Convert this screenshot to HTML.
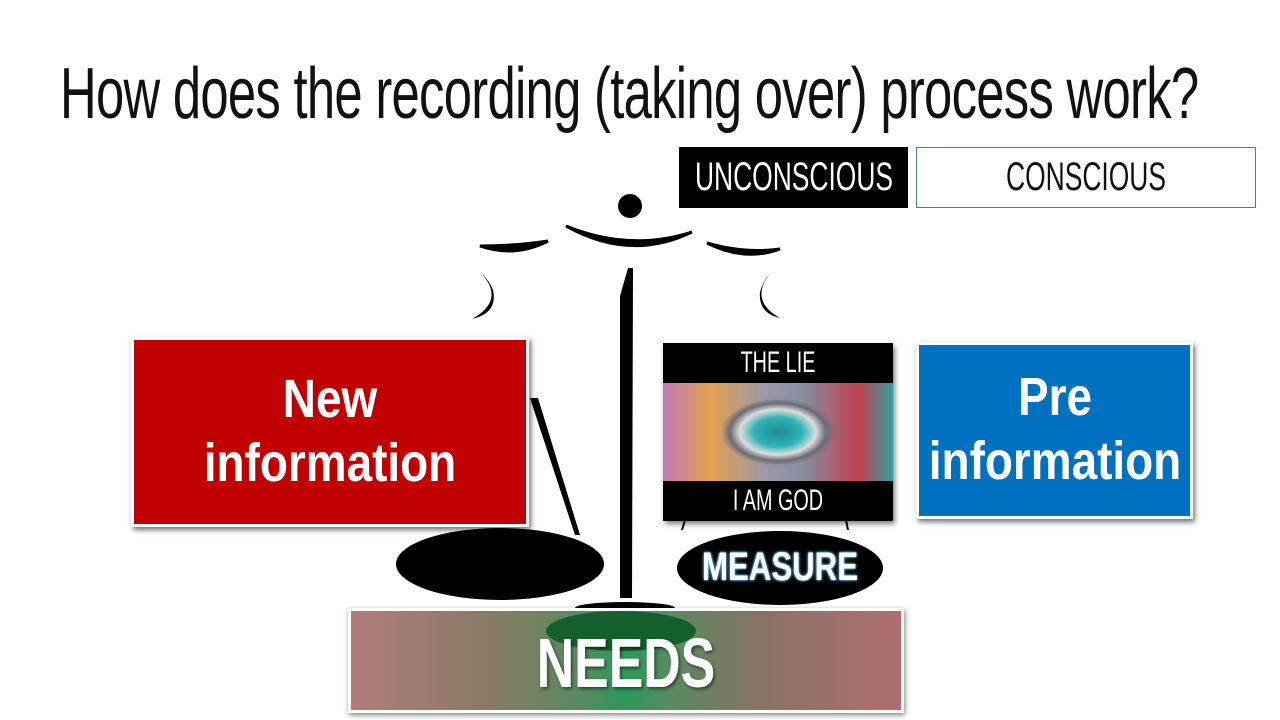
<!DOCTYPE html>
<html><head><meta charset="utf-8"><style>
body{margin:0;width:1280px;height:720px;background:#fff;position:relative;overflow:hidden;font-family:"Liberation Sans",sans-serif}
.a{position:absolute}
.t{white-space:nowrap;transform-origin:left top}
.c{position:absolute;left:50%;white-space:nowrap}
.box{box-sizing:border-box;border:3px solid #fff;box-shadow:2px 3px 5px rgba(0,0,0,.55);color:#fff;font-weight:bold;text-align:center}
</style></head><body>
<div class="a t" style="left:60px;top:54px;font-size:72px;line-height:80px;color:#111;transform:scaleX(0.705);letter-spacing:-1px">How does the recording (taking over) process work?</div>

<div class="a" style="left:679px;top:147px;width:229px;height:61px;background:#000;color:#fff;font-size:40px;line-height:61px"><span class="c" style="transform:translateX(-50%) scaleX(0.66)">UNCONSCIOUS</span></div>
<div class="a" style="left:916px;top:147px;width:340px;height:61px;box-sizing:border-box;border:1.5px solid #4a7ab0;color:#111;font-size:40px;line-height:58px"><span class="c" style="transform:translateX(-50%) scaleX(0.66)">CONSCIOUS</span></div>

<svg class="a" style="left:0;top:0" width="1280" height="720">
<circle cx="630" cy="206" r="12" fill="#000"/>
<path d="M566,226 Q630,262 692,232 Q630,252 566,226Z" fill="#000" stroke="#000" stroke-width="3"/>
<path d="M480,246 Q515,258 548,241 Q515,246 480,246Z" fill="#000" stroke="#000" stroke-width="3"/>
<path d="M707,243 Q745,262 780,249 Q745,254 707,243Z" fill="#000" stroke="#000" stroke-width="3"/>
<path d="M481,273 Q506,300 472,319 Q498,313 493,290 Q489,280 481,273Z" fill="#000"/>
<path d="M771,272 Q748,300 780,318 Q758,313 760,292 Q763,281 771,272Z" fill="#000"/>
<path d="M628,268 L633,268 L632,598 L620,598 L620,296Z" fill="#000"/>
<path d="M530,398 L538,398 L580,535 L575,535Z" fill="#000"/>
<ellipse cx="500" cy="564" rx="104" ry="36" fill="#000"/>
<ellipse cx="780" cy="568" rx="103" ry="37" fill="#000"/>
<ellipse cx="625" cy="608" rx="50" ry="6" fill="#000"/>
<line x1="685" y1="520" x2="682" y2="530" stroke="#000" stroke-width="2"/>
<line x1="846" y1="520" x2="848" y2="530" stroke="#000" stroke-width="2"/>
</svg>

<div class="a box" style="left:131px;top:337px;width:398px;height:190px;background:#c00000;font-size:54px;line-height:64px"><span class="c" style="top:27px;transform:translateX(-50%) scaleX(0.85)">New<br>information</span></div>

<div class="a box" style="left:916px;top:342px;width:277px;height:177px;background:#0070c0;font-size:54px;line-height:64px"><span class="c" style="top:20px;transform:translateX(-50%) scaleX(0.85)">Pre<br>information</span></div>

<div class="a" style="left:663px;top:343px;width:230px;height:178px;background:#000;box-shadow:2px 3px 5px rgba(0,0,0,.5)">
 <div class="a" style="left:0;top:0;width:230px;height:40px;color:#fff;font-size:30px;line-height:40px"><span class="c" style="transform:translateX(-50%) scaleX(0.66)">THE LIE</span></div>
 <div class="a" style="left:0;top:40px;width:230px;height:98px;background:radial-gradient(ellipse 30% 42% at 50% 50%,#1a8c92 0%,#2fb3b6 35%,#dcdcdc 55%,#6a6a76 70%,transparent 82%),linear-gradient(90deg,#c07ab8,#e3a050 20%,#9a9aa8 45%,#8890a0 60%,#c04050 85%,#30a0a0)"></div>
 <div class="a" style="left:0;top:138px;width:230px;height:40px;color:#fff;font-size:30px;line-height:40px"><span class="c" style="transform:translateX(-50%) scaleX(0.66)">I AM GOD</span></div>
</div>

<div class="a" style="left:677px;top:540px;width:206px;height:54px;color:#fff;font-weight:bold;font-size:40px;line-height:54px;text-shadow:0 0 4px #6cc8ff,0 0 2px #6cc8ff"><span class="c" style="transform:translateX(-50%) scaleX(0.78)">MEASURE</span></div>

<div class="a" style="left:348px;top:608px;width:556px;height:105px;box-sizing:border-box;border:3px solid #fff;box-shadow:1px 2px 5px rgba(0,0,0,.5);background:linear-gradient(90deg,#b07c7c 0%,#8a7a66 25%,#5a8a60 42%,#2a9a5a 50%,#5a8a60 58%,#8a7266 75%,#b06e70 100%);overflow:hidden">
 <div class="a" style="left:195px;top:0;width:150px;height:40px;border-radius:50%;background:#14602c"></div>
 <div class="a" style="left:0;top:0;width:550px;height:99px;color:#fff;font-weight:bold;font-size:70px;line-height:104px;text-shadow:2px 2px 4px rgba(0,0,0,.5)"><span class="c" style="transform:translateX(-50%) scaleX(0.74)">NEEDS</span></div>
</div>
</body></html>
